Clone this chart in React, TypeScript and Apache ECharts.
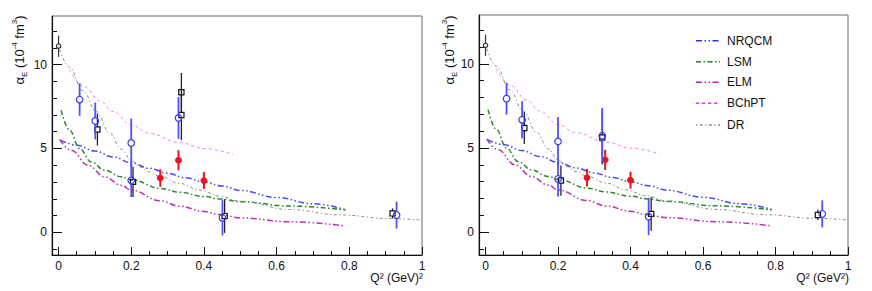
import React, { useEffect, useRef } from "react";
import * as echarts from "echarts";

// ---- tick labels ----
const xMajorTicks = [0, 0.2, 0.4, 0.6, 0.8, 1];
const xMinorTicks = [0.05, 0.1, 0.15, 0.25, 0.3, 0.35, 0.45, 0.5, 0.55, 0.65, 0.7, 0.75, 0.85, 0.9, 0.95];
const yMajorTicks = [0, 5, 10];
const yMinorTicks = [-1, 1, 2, 3, 4, 6, 7, 8, 9, 11, 12];

// ---- model curves [Q2, alphaE] ----
const nrqcm = [[0.005, 5.5], [0.05, 5.2], [0.1, 4.85], [0.15, 4.5], [0.2, 4.15], [0.25, 3.82], [0.3, 3.52], [0.35, 3.25], [0.4, 3.0], [0.45, 2.76], [0.5, 2.5], [0.6, 2.08], [0.7, 1.7], [0.79, 1.35]];
const lsm = [[0.007, 7.28], [0.03, 6.1], [0.058, 5.0], [0.09, 4.2], [0.127, 3.7], [0.173, 3.31], [0.205, 3.11], [0.28, 2.62], [0.333, 2.39], [0.4, 2.14], [0.443, 1.99], [0.5, 1.83], [0.636, 1.57], [0.79, 1.33]];
const elm = [[0.003, 5.54], [0.035, 4.9], [0.081, 4.0], [0.127, 3.31], [0.173, 2.8], [0.2, 2.52], [0.28, 1.88], [0.333, 1.56], [0.4, 1.25], [0.443, 1.06], [0.5, 0.87], [0.636, 0.63], [0.79, 0.38]];
const bchpt = [[0.03, 9.7], [0.07, 8.7], [0.113, 7.85], [0.15, 7.2], [0.2, 6.4], [0.25, 5.9], [0.333, 5.35], [0.4, 5.0], [0.48, 4.65]];
const dr = [[0, 11.1], [0.03, 9.85], [0.067, 8.45], [0.104, 7.2], [0.14, 5.95], [0.173, 4.95], [0.2, 4.3], [0.223, 3.9], [0.25, 3.6], [0.278, 3.35], [0.333, 2.92], [0.388, 2.52], [0.443, 2.16], [0.5, 1.86], [0.636, 1.36], [0.774, 1.04], [0.912, 0.82], [1.0, 0.73]];

// ---- data points [Q2, alphaE, error] ----
const openBlackCircle = [[0, 11.1, 0.63]];
const redPoints = [[0.28, 3.24, 0.52], [0.33, 4.3, 0.6], [0.4, 3.09, 0.5]];
const blueCirclesLeft = [[0.058, 7.92, 0.97], [0.101, 6.64, 1.1], [0.2, 5.33, 1.45], [0.2, 3.1, 1.0], [0.33, 6.82, 1.25], [0.451, 0.87, 1.05], [0.93, 1.03, 0.8]];
const blackSquaresLeft = [[0.107, 6.13, 0.95], [0.205, 3.01, 0.9], [0.338, 7.0, 1.5], [0.338, 8.35, 1.15], [0.457, 0.97, 1.0], [0.919, 1.13, 0.3]];
const blueCirclesRight = [[0.058, 7.93, 0.95], [0.101, 6.68, 1.1], [0.2, 5.39, 1.45], [0.2, 3.17, 1.05], [0.322, 5.73, 1.65], [0.45, 0.93, 1.1], [0.929, 1.09, 0.8]];
const blackSquaresRight = [[0.107, 6.19, 0.95], [0.208, 3.07, 0.9], [0.322, 5.63, 1.6], [0.457, 1.09, 1.0], [0.917, 1.03, 0.3]];

const FONT = "'Liberation Sans', Arial, sans-serif";

const curveDefs = [
  { name: "NRQCM", data: nrqcm, color: "#4848f4", legendColor: "#3030f0", width: 1.5, dash: [6, 2.5, 1.5, 2.5, 1.5, 2.5] },
  { name: "LSM", data: lsm, color: "#2a8a2a", legendColor: "#1f801f", width: 1.5, dash: [5, 2.5, 1.5, 2.5] },
  { name: "ELM", data: elm, color: "#bb2fbb", legendColor: "#c020c0", width: 1.5, dash: [6, 2.5, 1.5, 2.5, 1.5, 2.5] },
  { name: "BChPT", data: bchpt, color: "#ff77ff", legendColor: "#ff30ff", width: 1, dash: [3, 3] },
  { name: "DR", data: dr, color: "#8a8a8a", legendColor: "#8a8a8a", width: 1, dash: [1.2, 2.5, 3, 2.5] },
];

function markerSeries(data: number[][], idx: number, kind: string, color: string, barColor: string, barWidth: number, r: number) {
  return {
    type: "custom",
    xAxisIndex: idx * 2,
    yAxisIndex: idx * 2,
    data,
    z: 10,
    encode: { x: 0, y: 1 },
    renderItem: (params: any, api: any) => {
      const x = api.value(0);
      const y = api.value(1);
      const e = api.value(2);
      const c = api.coord([x, y]);
      const t = api.coord([x, y + e]);
      const b = api.coord([x, y - e]);
      const children: any[] = [];
      if (t[1] < c[1] - r) children.push({ type: "line", shape: { x1: c[0], y1: t[1], x2: c[0], y2: c[1] - r }, style: { stroke: barColor, lineWidth: barWidth } });
      if (b[1] > c[1] + r) children.push({ type: "line", shape: { x1: c[0], y1: c[1] + r, x2: c[0], y2: b[1] }, style: { stroke: barColor, lineWidth: barWidth } });
      if (kind === "rect") {
        children.push({ type: "rect", shape: { x: c[0] - r, y: c[1] - r, width: 2 * r, height: 2 * r }, style: { fill: "none", stroke: color, lineWidth: 1.2 } });
      } else if (kind === "filled") {
        children.push({ type: "circle", shape: { cx: c[0], cy: c[1], r }, style: { fill: color, stroke: color, lineWidth: 1 } });
      } else {
        children.push({ type: "circle", shape: { cx: c[0], cy: c[1], r }, style: { fill: "none", stroke: color, lineWidth: 1.2 } });
      }
      return { type: "group", children };
    },
  };
}

function buildOption() {
  const grids = [
    { left: 52, top: 16, width: 370, height: 239 },
    { left: 479, top: 15, width: 369, height: 240 },
  ].map((g) => ({ ...g, show: true, borderColor: "#6a6a6a", borderWidth: 1, backgroundColor: "transparent" }));

  const xAxis: any[] = [];
  const yAxis: any[] = [];
  for (let i = 0; i < 2; i++) {
    xAxis.push({
      type: "value", gridIndex: i, min: -0.018, max: 1, position: "bottom",
      axisLine: { show: true, onZero: false, lineStyle: { color: "#111", width: 1.2 } },
      splitLine: { show: false },
      axisTick: { show: true, inside: true, length: 8, customValues: xMajorTicks, lineStyle: { color: "#111" } },
      axisLabel: { customValues: xMajorTicks, margin: 5, color: "#111", fontSize: 12, lineHeight: 12, fontFamily: FONT, formatter: (v: number) => String(Math.round(v * 10) / 10) },
    });
    xAxis.push({
      type: "value", gridIndex: i, min: -0.018, max: 1, position: "bottom",
      axisLine: { show: false, onZero: false }, splitLine: { show: false },
      axisTick: { show: true, inside: true, length: 4, customValues: xMinorTicks, lineStyle: { color: "#111" } },
      axisLabel: { show: false },
    });
    yAxis.push({
      type: "value", gridIndex: i, min: -1.35, max: 12.9, position: "left",
      axisLine: { show: true, onZero: false, lineStyle: { color: "#111", width: 1.2 } },
      splitLine: { show: false },
      axisTick: { show: true, inside: true, length: 10, customValues: yMajorTicks, lineStyle: { color: "#111" } },
      axisLabel: { customValues: yMajorTicks, margin: 5, color: "#111", fontSize: 12, fontFamily: FONT },
    });
    yAxis.push({
      type: "value", gridIndex: i, min: -1.35, max: 12.9, position: "left",
      axisLine: { show: false, onZero: false }, splitLine: { show: false },
      axisTick: { show: true, inside: true, length: 5, customValues: yMinorTicks, lineStyle: { color: "#111" } },
      axisLabel: { show: false },
    });
  }

  const series: any[] = [];
  for (let i = 0; i < 2; i++) {
    for (const c of curveDefs) {
      series.push({
        type: "line", name: c.name, xAxisIndex: i * 2, yAxisIndex: i * 2, data: c.data,
        showSymbol: false, symbol: "none", smooth: 0.4, smoothMonotone: "x",
        lineStyle: { color: c.color, width: c.width, type: c.dash },
        itemStyle: { color: c.color },
        z: 3, silent: true,
      });
    }
    series.push(markerSeries(openBlackCircle, i, "circle", "#333", "#333", 1.2, 2.2));
    series.push(markerSeries(redPoints, i, "filled", "#e8141a", "#e8141a", 2, 3));
  }
  series.push(markerSeries(blackSquaresLeft, 0, "rect", "#111", "#222", 1.3, 2.6));
  series.push(markerSeries(blueCirclesLeft, 0, "circle", "#3a3aff", "#5050ff", 1.8, 3.3));
  series.push(markerSeries(blackSquaresRight, 1, "rect", "#111", "#222", 1.3, 2.6));
  series.push(markerSeries(blueCirclesRight, 1, "circle", "#3a3aff", "#5050ff", 1.8, 3.3));

  const yTitle = (x: number, y: number) => ({
    type: "text", x, y, rotation: Math.PI / 2,
    style: {
      text: "α{sub|E} (10{sup|-4} fm{sup|3})",
      fontSize: 13, fontFamily: FONT, fill: "#111", align: "center", verticalAlign: "middle",
      rich: {
        sub: { fontSize: 8, fontFamily: FONT, fill: "#111", verticalAlign: "bottom", lineHeight: 18, padding: [6, 0, 0, 0] },
        sup: { fontSize: 8, fontFamily: FONT, fill: "#111", verticalAlign: "top", lineHeight: 18, padding: [0, 0, 6, 0] },
      },
    },
  });
  const xTitle = (x: number, y: number, text: string) => ({
    type: "text", x, y,
    style: { text, fontSize: 12, lineHeight: 11, fontFamily: FONT, fill: "#111", align: "right", verticalAlign: "middle" },
  });

  const legendRows = [40.7, 61.7, 82.3, 103.3, 125];
  const legendGraphics: any[] = [];
  curveDefs.forEach((c, k) => {
    const y = legendRows[k];
    legendGraphics.push({
      type: "line", shape: { x1: 696, y1: y, x2: 720, y2: y },
      style: { stroke: c.legendColor, lineWidth: 1.5, lineDash: c.dash },
    });
    legendGraphics.push({
      type: "text", x: 727, y,
      style: { text: c.name, fontSize: 12, fontFamily: FONT, fill: "#111", align: "left", verticalAlign: "middle" },
    });
  });

  return {
    animation: false,
    backgroundColor: "#fff",
    grid: grids,
    xAxis,
    yAxis,
    series,
    graphic: [
      yTitle(19, 50),
      yTitle(449, 50),
      xTitle(423, 278, "Q² (GeV)²"),
      xTitle(849, 278, "Q² (GeV²)"),
      ...legendGraphics,
    ],
  };
}

export default function App() {
  const ref = useRef<HTMLDivElement>(null);
  useEffect(() => {
    if (!ref.current) return;
    const chart = echarts.init(ref.current, null, { renderer: "svg" });
    chart.setOption(buildOption() as any);
    return () => chart.dispose();
  }, []);
  return <div ref={ref} style={{ position: "fixed", left: 0, top: 0, width: 872, height: 291 }} />;
}
